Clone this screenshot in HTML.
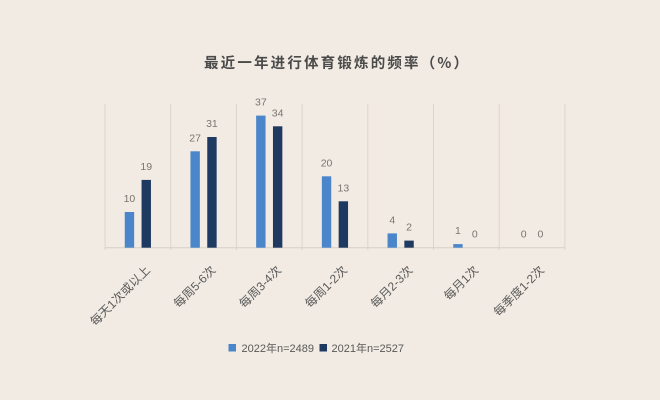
<!DOCTYPE html>
<html><head><meta charset="utf-8"><style>
html,body{margin:0;padding:0;background:#f2ebe3;}
svg{display:block;}
text{font-family:"Liberation Sans","Noto Sans CJK SC",sans-serif;}
</style></head><body>
<svg width="660" height="400" viewBox="0 0 660 400" xmlns="http://www.w3.org/2000/svg">
<rect width="660" height="400" fill="#f2ebe3"/>
<text x="204" y="68" font-size="14.5" textLength="264" lengthAdjust="spacing" fill="#4a4a4a" font-weight="bold" style="font-family:'Noto Sans CJK SC',sans-serif">最近一年进行体育锻炼的频率（%）</text>
<g stroke="#dcd5cd" stroke-width="1">
<line x1="105" y1="104" x2="105" y2="250"/>
<line x1="170.7" y1="104" x2="170.7" y2="250"/>
<line x1="236.4" y1="104" x2="236.4" y2="250"/>
<line x1="302.1" y1="104" x2="302.1" y2="250"/>
<line x1="367.8" y1="104" x2="367.8" y2="250"/>
<line x1="433.5" y1="104" x2="433.5" y2="250"/>
<line x1="499.2" y1="104" x2="499.2" y2="250"/>
<line x1="564.9" y1="104" x2="564.9" y2="250"/>
</g>
<line x1="105" y1="247.7" x2="565" y2="247.7" stroke="#d6cfc7" stroke-width="1"/>
<g fill="#4a86c9">
<rect x="124.75" y="212.0" width="9.4" height="35.7"/>
<rect x="190.45" y="151.3" width="9.4" height="96.4"/>
<rect x="256.15" y="115.6" width="9.4" height="132.1"/>
<rect x="321.85" y="176.3" width="9.4" height="71.4"/>
<rect x="387.55" y="233.4" width="9.4" height="14.3"/>
<rect x="453.25" y="244.1" width="9.4" height="3.6"/>
</g>
<g fill="#1f3a60">
<rect x="141.55" y="179.9" width="9.4" height="67.8"/>
<rect x="207.25" y="137.0" width="9.4" height="110.7"/>
<rect x="272.95" y="126.3" width="9.4" height="121.4"/>
<rect x="338.65" y="201.3" width="9.4" height="46.4"/>
<rect x="404.35" y="240.6" width="9.4" height="7.1"/>
</g>
<g font-size="10.5" fill="#7a7470" text-anchor="middle">
<text x="129.45" y="202">10</text>
<text x="195.15" y="141.3">27</text>
<text x="260.85" y="105.6">37</text>
<text x="326.55" y="166.3">20</text>
<text x="392.25" y="223.4">4</text>
<text x="457.95" y="234.1">1</text>
<text x="523.65" y="237.7">0</text>
<text x="146.25" y="169.9">19</text>
<text x="211.95" y="127">31</text>
<text x="277.65" y="116.3">34</text>
<text x="343.35" y="191.3">13</text>
<text x="409.05" y="230.6">2</text>
<text x="474.75" y="237.7">0</text>
<text x="540.45" y="237.7">0</text>
</g>
<g font-size="12" fill="#5a5a5a" text-anchor="end" dominant-baseline="central">
<text x="148" y="268" transform="rotate(-45 148 268)">每天1次或以上</text>
<text x="213.5" y="268" transform="rotate(-45 213.5 268)">每周5-6次</text>
<text x="279.2" y="268" transform="rotate(-45 279.2 268)">每周3-4次</text>
<text x="345" y="268" transform="rotate(-45 345 268)">每周1-2次</text>
<text x="410.6" y="268" transform="rotate(-45 410.6 268)">每月2-3次</text>
<text x="476.3" y="268" transform="rotate(-45 476.3 268)">每月1次</text>
<text x="542" y="268" transform="rotate(-45 542 268)">每季度1-2次</text>
</g>
<rect x="228.5" y="344" width="7.5" height="7.5" fill="#4a86c9"/>
<text x="241.5" y="352" font-size="11" fill="#595959">2022年n=2489</text>
<rect x="319.5" y="344" width="7.5" height="7.5" fill="#1f3a60"/>
<text x="331.5" y="352" font-size="11" fill="#595959">2021年n=2527</text>
</svg>
</body></html>
